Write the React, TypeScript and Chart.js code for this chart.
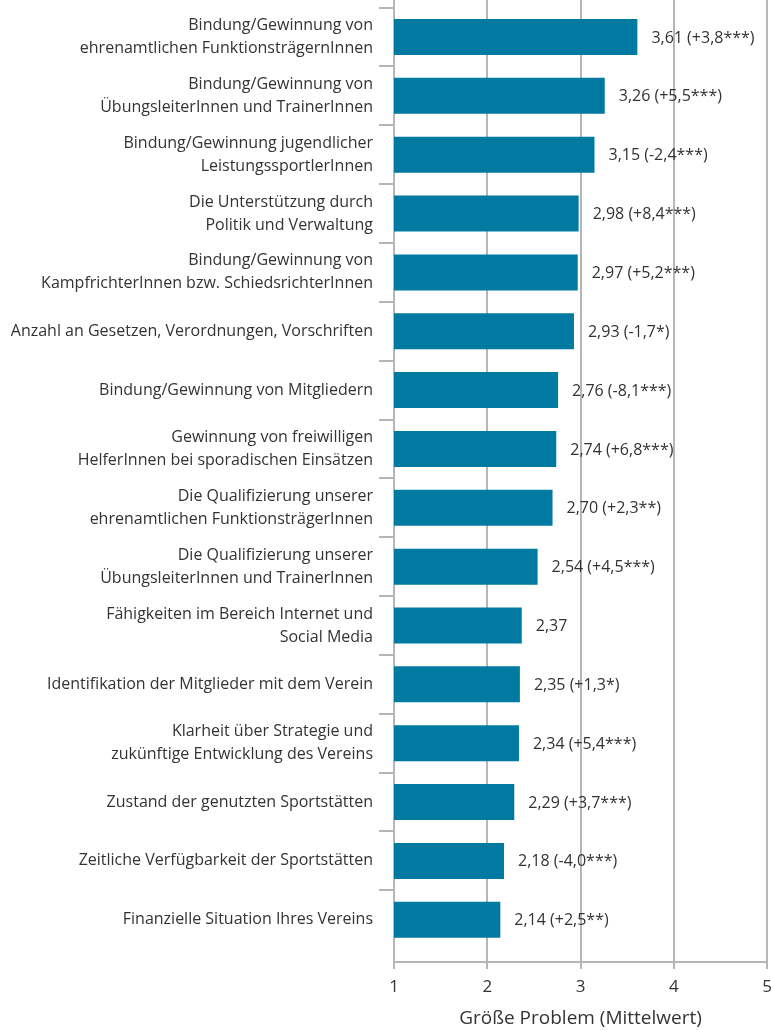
import { useEffect, useRef } from 'react';
import { Chart, registerables } from 'chart.js';

Chart.register(...registerables);

const categories: string[][] = [
  ['Bindung/Gewinnung von', 'ehrenamtlichen FunktionsträgernInnen'],
  ['Bindung/Gewinnung von', 'ÜbungsleiterInnen und TrainerInnen'],
  ['Bindung/Gewinnung jugendlicher', 'LeistungssportlerInnen'],
  ['Die Unterstützung durch', 'Politik und Verwaltung'],
  ['Bindung/Gewinnung von', 'KampfrichterInnen bzw. SchiedsrichterInnen'],
  ['Anzahl an Gesetzen, Verordnungen, Vorschriften'],
  ['Bindung/Gewinnung von Mitgliedern'],
  ['Gewinnung von freiwilligen', 'HelferInnen bei sporadischen Einsätzen'],
  ['Die Qualifizierung unserer', 'ehrenamtlichen FunktionsträgerInnen'],
  ['Die Qualifizierung unserer', 'ÜbungsleiterInnen und TrainerInnen'],
  ['Fähigkeiten im Bereich Internet und', 'Social Media'],
  ['Identifikation der Mitglieder mit dem Verein'],
  ['Klarheit über Strategie und', 'zukünftige Entwicklung des Vereins'],
  ['Zustand der genutzten Sportstätten'],
  ['Zeitliche Verfügbarkeit der Sportstätten'],
  ['Finanzielle Situation Ihres Vereins'],
];

const meanValues: number[] = [3.61, 3.26, 3.15, 2.98, 2.97, 2.93, 2.76, 2.74, 2.7, 2.54, 2.37, 2.35, 2.34, 2.29, 2.18, 2.14];
const changeValues: (number | null)[] = [3.8, 5.5, -2.4, 8.4, 5.2, -1.7, -8.1, 6.8, 2.3, 4.5, null, 1.3, 5.4, 3.7, -4.0, 2.5];
const significance: string[] = ['***', '***', '***', '***', '***', '*', '***', '***', '**', '***', '', '*', '***', '***', '***', '**'];
const xTickValues: number[] = [1, 2, 3, 4, 5];
const axisTitle = 'Größe Problem (Mittelwert)';

const FONT = "'Open Sans', 'Noto Sans', sans-serif";
const TEXT = '#333333';
const GRID = '#b6b6b8';
const BAR = '#007aa1';

const fmt = (v: number, digits: number) => v.toFixed(digits).replace('.', ',');

export default function App() {
  const ref = useRef<HTMLCanvasElement>(null);

  useEffect(() => {
    document.body.style.margin = '0';
    document.body.style.overflow = 'hidden';

    const valueLabels = {
      id: 'valueLabels',
      afterDatasetsDraw(chart: any) {
        const ctx = chart.ctx;
        const meta = chart.getDatasetMeta(0);
        ctx.save();
        ctx.font = `16px ${FONT}`;
        ctx.fillStyle = TEXT;
        ctx.textAlign = 'left';
        ctx.textBaseline = 'middle';
        meta.data.forEach((bar: any, i: number) => {
          const c = changeValues[i];
          let txt = fmt(meanValues[i], 2);
          if (c !== null) txt += ` (${c > 0 ? '+' : ''}${fmt(c, 1)}${significance[i]})`;
          ctx.fillText(txt, bar.x + 14, bar.y + 1);
        });
        ctx.restore();
      },
    };

    const chart = new Chart(ref.current as HTMLCanvasElement, {
      type: 'bar',
      data: {
        datasets: [
          {
            data: meanValues.map((v, i) => ({ x: v, y: i })),
            backgroundColor: BAR,
            barPercentage: 0.612,
            categoryPercentage: 1,
          },
        ],
      },
      options: {
        indexAxis: 'y',
        animation: false,
        responsive: false,
        maintainAspectRatio: false,
        layout: { padding: { left: 0, top: 0, right: 4, bottom: 0 } },
        plugins: { legend: { display: false }, tooltip: { enabled: false } },
        scales: {
          x: {
            type: 'linear',
            offset: false,
            min: xTickValues[0],
            max: xTickValues[xTickValues.length - 1],
            afterBuildTicks: (s: any) => {
              s.ticks = xTickValues.map((v) => ({ value: v }));
            },
            ticks: { color: TEXT, font: { family: FONT, size: 17 }, padding: 8 },
            grid: { offset: false, color: GRID, lineWidth: 2, tickLength: 7 },
            border: { color: GRID, width: 2 },
            title: {
              display: true,
              text: axisTitle,
              color: TEXT,
              font: { family: FONT, size: 19 },
              padding: { top: 4, bottom: 0 },
            },
            afterFit: (s: any) => {
              s.height = 68;
              s.paddingLeft = 0;
              s.paddingRight = 0;
            },
          },
          y: {
            type: 'linear',
            reverse: true,
            offset: false,
            min: -0.629,
            max: 15.718,
            afterBuildTicks: (s: any) => {
              s.ticks = categories.map((_, i) => ({ value: i - 0.5 }));
            },
            ticks: {
              autoSkip: false,
              callback: (_v: any, i: number) => categories[i],
              labelOffset: 29.4,
              padding: 6,
              color: TEXT,
              font: { family: FONT, size: 16, lineHeight: 1.44 },
            },
            grid: { offset: false, drawOnChartArea: false, color: GRID, lineWidth: 2, tickLength: 15 },
            border: { color: GRID, width: 2 },
            afterFit: (s: any) => {
              s.width = 394;
              s.paddingTop = 0;
              s.paddingBottom = 0;
            },
          },
        },
      } as any,
      plugins: [valueLabels],
    });
    return () => chart.destroy();
  }, []);

  return (
    <div style={{ width: 771, height: 1030 }}>
      <canvas ref={ref} width={771} height={1030} style={{ display: 'block' }} />
    </div>
  );
}
